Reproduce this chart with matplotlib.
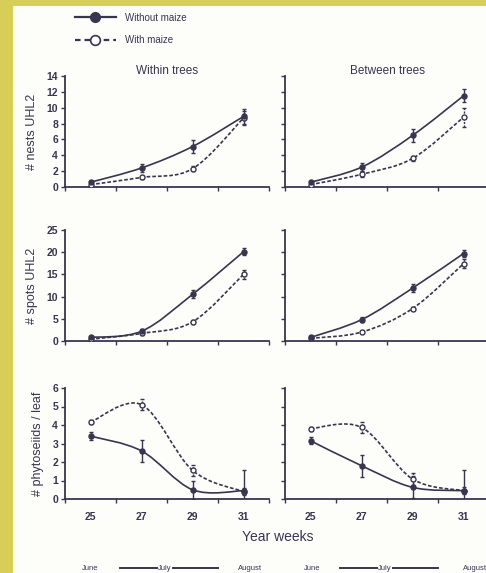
import numpy as np
import matplotlib
matplotlib.use("Agg")
import matplotlib.pyplot as plt
from matplotlib.path import Path
from matplotlib.patches import PathPatch, Rectangle
from matplotlib.lines import Line2D

plt.rcParams['font.family'] = ['Liberation Sans', 'DejaVu Sans']

INK = '#38354f'
W, H = 486, 573

weeks = [25, 27, 29, 31]

# nests UHL2
nests_within_without = [0.6, 2.4, 5.1, 8.9]
nests_within_without_err = [0.2, 0.5, 0.8, 0.9]
nests_within_with = [0.3, 1.2, 2.3, 8.7]
nests_within_with_err = [0.1, 0.2, 0.3, 0.9]
nests_between_without = [0.6, 2.5, 6.5, 11.5]
nests_between_without_err = [0.2, 0.5, 0.8, 0.8]
nests_between_with = [0.3, 1.6, 3.6, 8.8]
nests_between_with_err = [0.1, 0.3, 0.3, 1.2]

# spots UHL2
spots_within_without = [0.8, 2.2, 10.5, 20.1]
spots_within_without_err = [0.3, 0.5, 0.9, 0.8]
spots_within_with = [0.4, 1.7, 4.3, 15.0]
spots_within_with_err = [0.2, 0.3, 0.4, 1.0]
spots_between_without = [0.8, 4.8, 11.9, 19.7]
spots_between_without_err = [0.3, 0.5, 0.9, 0.8]
spots_between_with = [0.6, 2.0, 7.3, 17.4]
spots_between_with_err = [0.2, 0.3, 0.4, 1.0]

# phytoseiids / leaf
phyto_within_without = [3.4, 2.6, 0.5, 0.45]
phyto_within_without_err = [0.2, 0.6, 0.5, 1.1]
phyto_within_with = [4.15, 5.1, 1.55, 0.4]
phyto_within_with_err = [0.1, 0.3, 0.3, 0.2]
phyto_between_without = [3.15, 1.8, 0.63, 0.45]
phyto_between_without_err = [0.2, 0.6, 0.6, 1.1]
phyto_between_with = [3.8, 3.87, 1.08, 0.45]
phyto_between_with_err = [0.1, 0.3, 0.3, 0.2]

row_ylabels = ['# nests UHL2', '# spots UHL2', '# phytoseiids / leaf']
row_ylims = [(0, 14), (0, 25), (0, 6)]
row_yticks = [np.arange(0, 15, 2), np.arange(0, 26, 5), np.arange(0, 7, 1)]
col_titles = ['Within trees', 'Between trees']


def smooth_path(xs, ys):
    # Excel-style smoothed line: Catmull-Rom segments as cubic Bezier
    pts = np.column_stack([xs, ys]).astype(float)
    n = len(pts)
    verts = [pts[0]]
    codes = [Path.MOVETO]
    for i in range(n - 1):
        p0 = pts[i - 1] if i > 0 else pts[i]
        p1 = pts[i]
        p2 = pts[i + 1]
        p3 = pts[i + 2] if i + 2 < n else pts[i + 1]
        c1 = p1 + (p2 - p0) / 6.0
        c2 = p2 - (p3 - p1) / 6.0
        verts += [c1, c2, p2]
        codes += [Path.CURVE4] * 3
    return Path(verts, codes)


def draw_series(ax, ys, err, dashed):
    ls = (0, (2.2, 1.2)) if dashed else '-'
    ax.add_patch(PathPatch(smooth_path(weeks, ys), fill=False, edgecolor=INK,
                           lw=1.2, linestyle=ls, zorder=2))
    eb = ax.errorbar(weeks, ys, yerr=err, fmt='none', ecolor=INK, elinewidth=1.0,
                     capsize=1.5, capthick=1.0, zorder=3)
    if dashed:
        eb[2][0].set_linestyle((0, (1.5, 1)))
    ax.plot(weeks, ys, 'o', ms=3.6, mec=INK, mew=1.0,
            mfc='white' if dashed else INK, zorder=4)


data = [
    [(nests_within_without, nests_within_without_err, nests_within_with, nests_within_with_err),
     (nests_between_without, nests_between_without_err, nests_between_with, nests_between_with_err)],
    [(spots_within_without, spots_within_without_err, spots_within_with, spots_within_with_err),
     (spots_between_without, spots_between_without_err, spots_between_with, spots_between_with_err)],
    [(phyto_within_without, phyto_within_without_err, phyto_within_with, phyto_within_with_err),
     (phyto_between_without, phyto_between_without_err, phyto_between_with, phyto_between_with_err)],
]

fig = plt.figure(figsize=(W / 100, H / 100), dpi=100)
fig.patch.set_facecolor('#fdfdfa')

# scanned page border
fig.patches.append(Rectangle((0, 0), 13 / W, 1, transform=fig.transFigure,
                             facecolor='#d6ce57', edgecolor='none', zorder=0))
fig.patches.append(Rectangle((0, 1 - 6 / H), 1, 6 / H, transform=fig.transFigure,
                             facecolor='#d6ce57', edgecolor='none', zorder=0))

row_tops = [76, 230, 388]
row_h = 111
col_lefts = [65, 285]
col_w = 204

for r in range(3):
    for c in range(2):
        ax = fig.add_axes([col_lefts[c] / W, 1 - (row_tops[r] + row_h) / H,
                           col_w / W, row_h / H])
        ax.set_facecolor('none')
        yw, ew, ym, em = data[r][c]
        draw_series(ax, ym, em, dashed=True)
        draw_series(ax, yw, ew, dashed=False)

        ax.set_xlim(24, 32)
        ax.set_ylim(*row_ylims[r])
        ax.set_xticks(np.arange(24, 33, 2))
        ax.set_xticklabels([])
        ax.set_xticks(weeks, minor=True)
        ax.set_yticks(row_yticks[r])
        for s in ['top', 'right']:
            ax.spines[s].set_visible(False)
        for s in ['left', 'bottom']:
            ax.spines[s].set_color(INK)
            ax.spines[s].set_linewidth(1.3)
        ax.tick_params(axis='both', which='major', direction='out', length=3,
                       width=1, color=INK, labelcolor=INK, labelsize=7.5, pad=2)
        ax.tick_params(axis='x', which='minor', length=0, labelcolor=INK,
                       labelsize=7.5, pad=9)
        for lab in ax.get_yticklabels():
            lab.set_fontweight('bold')
        if r == 2:
            ax.set_xticklabels([str(w) for w in weeks], minor=True, fontweight='bold')
        else:
            ax.set_xticklabels([], minor=True)
        if c == 0:
            ax.set_ylabel(row_ylabels[r], color=INK, fontsize=9, labelpad=6)
        else:
            ax.set_yticklabels([])
        if r == 0:
            ax.text(0.5, 0.99, col_titles[c], transform=ax.transAxes, ha='center',
                    va='bottom', color=INK, fontsize=8.5)

fig.text(278 / W, 1 - 537 / H, 'Year weeks', ha='center', va='center',
         color=INK, fontsize=10)

# legend
handles = [
    Line2D([], [], color=INK, lw=1.6, marker='o', ms=7, mfc=INK, mec=INK),
    Line2D([], [], color=INK, lw=1.6, ls=(0, (2.5, 1.8)), marker='o', ms=7,
           mfc='white', mec=INK, mew=1.2),
]
fig.legend(handles, ['Without maize', 'With maize'], loc='upper left',
           bbox_to_anchor=(68 / W, 1 - 6 / H), frameon=False, fontsize=7,
           handlelength=4.2, handletextpad=1.0, labelspacing=1.3,
           borderpad=0.2, labelcolor=INK)

# months under each panel
month_y = 1 - 569 / H
for x_june, x_july, x_aug in [(90, 165, 250), (312, 385, 475)]:
    fig.text(x_june / W, month_y, 'June', ha='center', va='center', color=INK, fontsize=5.5)
    fig.text(x_july / W, month_y, 'July', ha='center', va='center', color=INK, fontsize=5.5)
    fig.text(x_aug / W, month_y, 'August', ha='center', va='center', color=INK, fontsize=5.5)
    fig.add_artist(Line2D([(x_july - 45) / W, (x_july - 8) / W], [month_y + 0.002] * 2,
                          transform=fig.transFigure, color=INK, lw=1.4))
    fig.add_artist(Line2D([(x_july + 8) / W, (x_july + 53) / W], [month_y + 0.002] * 2,
                          transform=fig.transFigure, color=INK, lw=1.4))

fig.savefig('out.png', dpi=100, facecolor=fig.get_facecolor())
